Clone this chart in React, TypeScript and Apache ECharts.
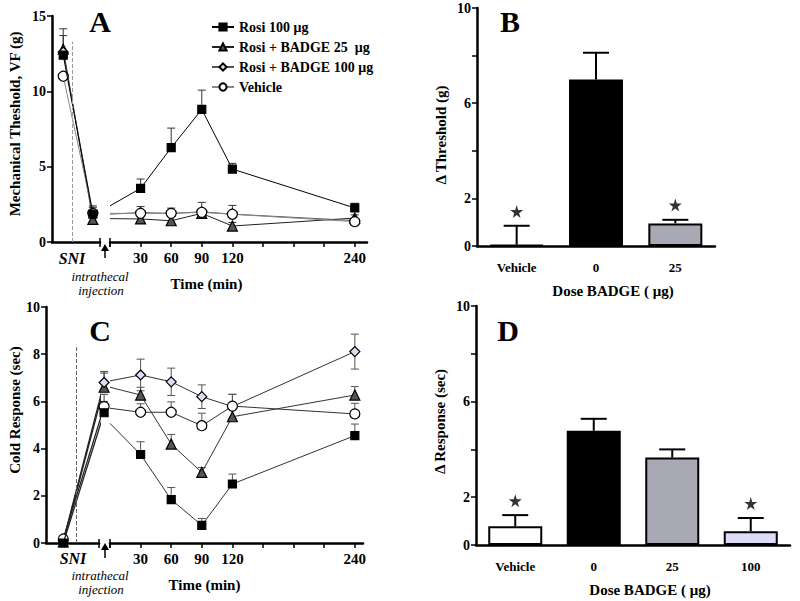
import React, { useEffect, useRef } from "react";
import * as echarts from "echarts";

const FONT = "'Liberation Serif', 'Times New Roman', serif";

// ---------- names ----------
const NAMES = ["Rosi 100 μg", "Rosi + BADGE 25  μg", "Rosi + BADGE 100 μg", "Vehicle"];

// ---------- x positions ----------
const TIME_MIN = [0, 30, 60, 90, 120, 240];
const TIME_LABELS = [30, 60, 90, 120, 240];
const PRE_X_A = [-45, -16]; // baseline, post-SNI
const PRE_X_C = [-46, -6];
const SNI_LINE_X_A = -36.4;
const SNI_LINE_X_C = -33;

// ---------- Panel A: mechanical threshold ----------
const A_PRE = [
  [12.4, 1.85],
  [12.8, 1.5],
  [12.6, 1.9],
  [11.0, 1.9],
];
const A_PRE_ERR = [
  [13.7, 2.3],
  [14.15, 2.4],
  [null, null],
  [null, null],
];
const A_POST = [
  [2.4, 3.56, 6.26, 8.8, 4.84, 2.26],
  [1.55, 1.53, 1.41, 1.9, 1.06, 1.59],
  [1.85, 1.95, 1.9, 2.0, 1.85, 1.42],
  [1.9, 1.9, 1.9, 1.97, 1.84, 1.35],
];
const A_POST_ERR = [
  [null, 4.18, 7.56, 10.08, 5.22, 2.57],
  [null, 1.8, 1.7, 2.2, 1.3, 1.8],
  [null, null, null, null, null, null],
  [null, 2.35, 2.25, 2.63, 2.43, 1.5],
];

// ---------- Panel C: cold response ----------
const C_PRE = [
  [0.0, 5.52],
  [0.05, 6.6],
  [0.1, 6.8],
  [0.17, 5.78],
];
const C_PRE_ERR = [
  [null, 6.0],
  [null, 7.2],
  [null, 7.27],
  [null, 6.3],
];
const C_POST = [
  [5.07, 3.75, 1.84, 0.75, 2.5, 4.55],
  [6.6, 6.27, 4.19, 2.99, 5.35, 6.27],
  [6.87, 7.12, 6.83, 6.2, 5.78, 8.11],
  [5.71, 5.54, 5.54, 4.97, 5.8, 5.47],
];
const C_POST_ERR = [
  [null, 4.29, 2.35, 1.04, 2.92, 5.04],
  [null, 6.6, 4.6, 3.2, 5.8, 6.63],
  [null, 7.79, 7.41, 6.7, 6.3, 8.85],
  [null, 5.9, 5.98, 5.5, 6.3, 5.92],
];

// ---------- Panel B ----------
const B_CATS = ["Vehicle", "0", "25"];
const B_VALUES = [0.05, 7.0, 0.95];
const B_ERR = [0.85, 8.12, 1.1];
const B_STARS = [1.45, null, 1.72];

// ---------- Panel D ----------
const D_CATS = ["Vehicle", "0", "25", "100"];
const D_VALUES = [0.78, 4.78, 3.66, 0.58];
const D_ERR = [1.25, 5.28, 4.0, 1.13];
const D_STARS = [1.85, null, null, 1.74];

const BAR_Y_LABELS = [0, 2, 6, 10];

// ---------- styles ----------
const SYMBOLS = ["rect", "triangle", "diamond", "circle"];
const SYMBOL_SIZE = [8, 10, 10, 10];
const FILL = ["#000000", "#555555", "#dcdcf2", "#ffffff"];
const LINE_COLOR = ["#000000", "#222222", "#555555", "#888888"];
const BAR_FILL = ["#ffffff", "#000000", "#a9a9b5", "#dcdcf8"];
const STAR =
  "path://M50,0 L61,35 L98,35 L68,57 L79,91 L50,70 L21,91 L32,57 L2,35 L39,35 Z";

const labelStyle = { fontFamily: FONT, fontWeight: "bold" as const, fontSize: 14, color: "#000" };
const axisLineStyle = { show: true, lineStyle: { color: "#000", width: 2.5 } };

function lineSeries(i: number, xi: number, xs: number[], ys: number[], hideFirst: boolean, extra: any = {}) {
  return {
    type: "line",
    name: NAMES[i],
    xAxisIndex: xi,
    yAxisIndex: xi,
    clip: false,
    z: 3 + (i === 0 ? 1 : 0),
    symbol: SYMBOLS[i],
    symbolSize: SYMBOL_SIZE[i],
    showAllSymbol: true,
    itemStyle: { color: FILL[i], borderColor: "#000", borderWidth: 1.2 },
    lineStyle: { color: LINE_COLOR[i], width: 1 },
    data: xs.map((x, k) =>
      hideFirst && k === 0 ? { value: [x, ys[k]], symbol: "none" } : { value: [x, ys[k]] }
    ),
    ...extra,
  };
}

function errSeries(xi: number, data: number[][], twoSided: boolean, capHalf: number, width: number, color: string) {
  return {
    type: "custom",
    xAxisIndex: xi,
    yAxisIndex: xi,
    clip: false,
    silent: true,
    z: 2,
    encode: { x: 0, y: [1, 2] },
    data,
    renderItem: (_p: any, api: any) => {
      const x = api.value(0);
      const lo = api.value(1);
      const hi = api.value(2);
      const p1 = api.coord([x, lo]);
      const p2 = api.coord([x, hi]);
      const st = { stroke: color, lineWidth: width };
      const children: any[] = [
        { type: "line", shape: { x1: p1[0], y1: p1[1], x2: p2[0], y2: p2[1] }, style: st },
        { type: "line", shape: { x1: p2[0] - capHalf, y1: p2[1], x2: p2[0] + capHalf, y2: p2[1] }, style: st },
      ];
      if (twoSided)
        children.push({ type: "line", shape: { x1: p1[0] - capHalf, y1: p1[1], x2: p1[0] + capHalf, y2: p1[1] }, style: st });
      return { type: "group", children };
    },
  };
}

function errData(xs: number[], ys: number[], hs: (number | null)[], twoSided: boolean) {
  const out: number[][] = [];
  xs.forEach((x, k) => {
    const h = hs[k];
    if (h == null) return;
    const e = h - ys[k];
    out.push([x, twoSided ? ys[k] - e : ys[k], h]);
  });
  return out;
}

function buildOption() {
  const series: any[] = [];
  // Panel A: axes 0 (pre) and 1 (post)
  for (let i = 0; i < 4; i++) {
    const extra: any = {};
    if (i === 3) {
      extra.markLine = {
        silent: true,
        symbol: "none",
        label: { show: false },
        lineStyle: { type: "dashed", color: "#9a9a9a", width: 1 },
        data: [[{ coord: [SNI_LINE_X_A, 0] }, { coord: [SNI_LINE_X_A, 13.3] }]],
      };
    }
    series.push(lineSeries(i, 0, PRE_X_A, A_PRE[i], false, extra));
    series.push(lineSeries(i, 1, TIME_MIN, A_POST[i], true));
    series.push(errSeries(0, errData(PRE_X_A, A_PRE[i], A_PRE_ERR[i], false), false, 4, 1, "#333"));
    series.push(errSeries(1, errData(TIME_MIN, A_POST[i], A_POST_ERR[i], false), false, 4, 1, "#333"));
  }
  // Panel C: axes 3 (pre) and 4 (post)
  for (let i = 0; i < 4; i++) {
    const extra: any = {};
    if (i === 3) {
      extra.markLine = {
        silent: true,
        symbol: "none",
        label: { show: false },
        lineStyle: { type: "dashed", color: "#666", width: 1 },
        data: [[{ coord: [SNI_LINE_X_C, 0] }, { coord: [SNI_LINE_X_C, 8.4] }]],
      };
    }
    series.push(lineSeries(i, 3, PRE_X_C, C_PRE[i], false, { ...extra, lineStyle: { color: "#222", width: 1.3 } }));
    series.push(lineSeries(i, 4, TIME_MIN, C_POST[i], true, { lineStyle: { color: "#333", width: 1 } }));
    series.push(errSeries(3, errData(PRE_X_C, C_PRE[i], C_PRE_ERR[i], false), false, 4, 1, "#444"));
    series.push(errSeries(4, errData(TIME_MIN, C_POST[i], C_POST_ERR[i], i === 2), i === 2, 4, 1, "#555"));
  }
  // Panel B: axis 2
  series.push({
    type: "bar",
    xAxisIndex: 2,
    yAxisIndex: 2,
    barWidth: 54,
    z: 2,
    data: B_VALUES.map((v, k) => ({
      value: v,
      itemStyle: { color: BAR_FILL[k], borderColor: "#000", borderWidth: 2 },
    })),
  });
  series.push(errSeries(2, B_VALUES.map((v, k) => [k, v, B_ERR[k]]), false, 13, 2, "#000"));
  series.push({
    type: "scatter",
    xAxisIndex: 2,
    yAxisIndex: 2,
    symbol: STAR,
    symbolSize: 13,
    itemStyle: { color: "#000" },
    data: B_STARS.map((v, k) => (v == null ? null : [k, v])).filter((d) => d),
  });
  // Panel D: axis 5
  series.push({
    type: "bar",
    xAxisIndex: 5,
    yAxisIndex: 5,
    barWidth: 54,
    z: 2,
    data: D_VALUES.map((v, k) => ({
      value: v,
      itemStyle: { color: BAR_FILL[k], borderColor: "#000", borderWidth: 2 },
    })),
  });
  series.push(errSeries(5, D_VALUES.map((v, k) => [k, v, D_ERR[k]]), false, 13, 2, "#000"));
  series.push({
    type: "scatter",
    xAxisIndex: 5,
    yAxisIndex: 5,
    symbol: STAR,
    symbolSize: 13,
    itemStyle: { color: "#000" },
    data: D_STARS.map((v, k) => (v == null ? null : [k, v])).filter((d) => d),
  });

  const timeAxis = (max: number) => ({
    type: "value",
    min: 0,
    max,
    interval: 30,
    axisLine: axisLineStyle,
    axisTick: { show: true, length: 5, lineStyle: { color: "#000", width: 1.5 } },
    splitLine: { show: false },
    axisLabel: {
      ...labelStyle,
      fontSize: 15,
      margin: 8,
      showMaxLabel: false,
      formatter: (v: number) => (TIME_LABELS.includes(v) ? String(v) : ""),
    },
    name: "Time (min)",
    nameLocation: "middle",
    nameGap: 34,
    nameTextStyle: { ...labelStyle, fontSize: 15, padding: [0, 64, 0, 0] },
  });
  const preAxis = (min: number, max: number) => ({
    type: "value",
    min,
    max,
    axisLine: axisLineStyle,
    axisTick: { show: false },
    axisLabel: { show: false },
    splitLine: { show: false },
  });
  const barXAxis = (cats: string[]) => ({
    type: "category",
    data: cats,
    axisLine: axisLineStyle,
    axisTick: { show: false },
    axisLabel: { ...labelStyle, fontSize: 13, margin: 15 },
    name: "Dose BADGE ( μg)",
    nameLocation: "middle",
    nameGap: 37,
    nameTextStyle: { ...labelStyle, fontSize: 15, padding: [0, 0, 0, 34] },
  });
  const valY = (
    max: number,
    interval: number,
    name: string,
    nameGap: number,
    show = true,
    labelFilter?: number[],
    namePadding: number[] = [0, 0, 0, 0],
    nameSize = 14
  ) => ({
    type: "value",
    show,
    min: 0,
    max,
    interval,
    axisLine: axisLineStyle,
    axisTick: { show: true, length: 5, lineStyle: { color: "#000", width: 1.5 } },
    splitLine: { show: false },
    axisLabel: {
      ...labelStyle,
      margin: 6,
      formatter: (v: number) => (!labelFilter || labelFilter.includes(v) ? String(v) : ""),
    },
    name,
    nameLocation: "middle",
    nameGap,
    nameTextStyle: { ...labelStyle, fontSize: nameSize, padding: namePadding },
  });

  const text = (x: number, y: number, t: string, font: string) => ({
    type: "text",
    x,
    y,
    style: { text: t, font, fill: "#000", align: "center", verticalAlign: "middle" },
  });
  const arrow = (x: number, yTop: number, yBottom: number) => [
    { type: "line", shape: { x1: x, y1: yTop + 5, x2: x, y2: yBottom }, style: { stroke: "#000", lineWidth: 1.5 } },
    { type: "polygon", shape: { points: [[x - 4, yTop + 7], [x + 4, yTop + 7], [x, yTop]] }, style: { fill: "#000" } },
  ];
  const breakMark = (x: number, y: number) => ({
    type: "line",
    shape: { x1: x, y1: y - 4, x2: x, y2: y + 5 },
    style: { stroke: "#000", lineWidth: 1.5 },
  });

  return {
    animation: false,
    backgroundColor: "#fff",
    grid: [
      { left: 52, top: 16, width: 48, height: 226 },
      { left: 110, top: 16, width: 257, height: 226 },
      { left: 477, top: 8, width: 238, height: 238 },
      { left: 46, top: 307, width: 53, height: 236 },
      { left: 110, top: 307, width: 253, height: 236 },
      { left: 476, top: 306, width: 314, height: 239 },
    ],
    xAxis: [
      { gridIndex: 0, ...preAxis(-56, -9) },
      { gridIndex: 1, ...timeAxis(252) },
      { gridIndex: 2, ...barXAxis(B_CATS) },
      { gridIndex: 3, ...preAxis(-63, -11) },
      { gridIndex: 4, ...timeAxis(248) },
      { gridIndex: 5, ...barXAxis(D_CATS) },
    ],
    yAxis: [
      { gridIndex: 0, ...valY(15, 5, "Mechanical Theshold, VF (g)", 30, true, undefined, [0, 0, 0, 10], 15) },
      { gridIndex: 1, ...valY(15, 5, "", 0, false) },
      { gridIndex: 2, ...valY(10, 2, "Δ Threshold (g)", 29, true, BAR_Y_LABELS, [0, 16, 0, 0], 15) },
      { gridIndex: 3, ...valY(10, 2, "Cold Response (sec)", 24, true, undefined, [0, 0, 0, 30], 15) },
      { gridIndex: 4, ...valY(10, 2, "", 0, false) },
      { gridIndex: 5, ...valY(10, 2, "Δ Response (sec)", 29, true, BAR_Y_LABELS, [0, 0, 0, 8], 15) },
    ],
    legend: {
      data: NAMES,
      orient: "vertical",
      left: 206,
      top: 15,
      itemWidth: 22,
      itemHeight: 9,
      itemGap: 6,
      selectedMode: false,
      textStyle: { fontFamily: FONT, fontWeight: "bold", fontSize: 14, color: "#000" },
    },
    graphic: [
      text(100, 21, "A", `bold 30px ${FONT}`),
      text(510, 21, "B", `bold 30px ${FONT}`),
      text(100, 330, "C", `bold 30px ${FONT}`),
      text(508, 330, "D", `bold 30px ${FONT}`),
      text(72, 258, "SNI", `italic bold 16px ${FONT}`),
      text(73, 558, "SNI", `italic bold 16px ${FONT}`),
      text(100, 276, "intrathecal", `italic 13px ${FONT}`),
      text(101, 290, "injection", `italic 13px ${FONT}`),
      text(100, 575, "intrathecal", `italic 13px ${FONT}`),
      text(101, 589, "injection", `italic 13px ${FONT}`),
      ...arrow(105, 244, 258),
      ...arrow(105, 543, 558),
      breakMark(100, 242),
      breakMark(110, 242),
      breakMark(99, 543),
      breakMark(110, 543),
    ],
    series,
  };
}

export default function App() {
  const ref = useRef<HTMLDivElement>(null);
  useEffect(() => {
    if (!ref.current) return;
    const chart = echarts.init(ref.current, null, { renderer: "svg" });
    chart.setOption(buildOption() as any);
    return () => chart.dispose();
  }, []);
  return (
    <div
      ref={ref}
      style={{ position: "fixed", left: 0, top: 0, width: 800, height: 601, background: "#fff" }}
    />
  );
}
